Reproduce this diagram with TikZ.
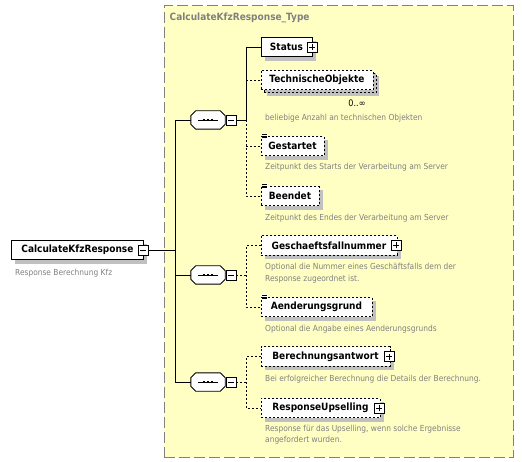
\documentclass[tikz,border=0pt]{standalone}
\usepackage{fontspec}
\setmainfont{DejaVu Sans Condensed}
\usetikzlibrary{shadows}
\definecolor{ybg}{HTML}{FFFFC4}
\definecolor{tgray}{HTML}{808080}
\definecolor{shd}{HTML}{C0C0C0}
\begin{document}
\begin{tikzpicture}[x=1pt,y=-1pt,
  elem/.style={draw=black, fill=white, line width=0.9pt, minimum height=19.5pt, inner sep=0pt, anchor=west,
    font=\bfseries\fontsize{10}{12}\selectfont,
    general shadow={fill=shd, shadow xshift=4pt, shadow yshift=-4pt}},
  optelem/.style={elem, dash pattern=on 2pt off 2pt},
  multielem/.style={draw=black, fill=white, line width=0.9pt, minimum height=19.5pt, inner sep=0pt, anchor=west,
    font=\bfseries\fontsize{10}{12}\selectfont, dash pattern=on 2pt off 2pt,
    general shadow={fill=shd, shadow xshift=6pt, shadow yshift=-6pt},
    general shadow={fill=shd, draw=black, dash pattern=on 2pt off 2pt, shadow xshift=3pt, shadow yshift=-3pt}},
  desc/.style={anchor=west, text=tgray, font=\fontsize{8.3}{11.5}\selectfont, inner sep=0pt, align=left},
  iconbox/.style={draw=black, fill=white, solid, line width=0.9pt, minimum size=10pt, inner sep=0pt},
  plusicon/.style={iconbox, path picture={
      \draw[line width=0.8pt] ([xshift=2pt]path picture bounding box.west) -- ([xshift=-2pt]path picture bounding box.east);
      \draw[line width=0.8pt] ([yshift=2pt]path picture bounding box.south) -- ([yshift=-2pt]path picture bounding box.north);}},
  minusicon/.style={iconbox, path picture={
      \draw[line width=0.8pt] ([xshift=2pt]path picture bounding box.west) -- ([xshift=-2pt]path picture bounding box.east);}},
  compbase/.style={minimum width=34pt, minimum height=18pt, inner sep=0pt},
  conn/.style={line width=0.9pt},
  optconn/.style={line width=0.9pt, dash pattern=on 2pt off 2pt},
]
\useasboundingbox (0,0) rectangle (522,462);

% type container
\node[draw=tgray, fill=ybg, line width=0.9pt, dash pattern=on 11pt off 4pt, minimum width=349pt, minimum height=451pt,
  anchor=north west, inner sep=0pt] (typebox) at (163.5,5.5) {};
\node[anchor=west, text=tgray, inner sep=0pt, font=\bfseries\fontsize{10}{12}\selectfont] (title) at (169.5,18) {CalculateKfzResponse\_Type};

% root element
\node[elem, minimum width=132pt] (main) at (11,250) {CalculateKfzResponse};
\node[minusicon] (mminus) at (143,250) {};
\node[desc] (maind) at (15,273) {Response Berechnung Kfz};
\coordinate (j) at (175.5,250);

% compositors (sequence)
\node[compbase] (c1) at (208,120) {};
\node[compbase] (c2) at (208,275) {};
\node[compbase] (c3) at (208,382) {};
\foreach \n in {c1,c2,c3}{
  \fill[shd, xshift=4pt, yshift=-4pt] ([xshift=5pt]\n.north west) -- ([xshift=-5pt]\n.north east) -- ([yshift=-5pt]\n.north east)
     -- ([yshift=5pt]\n.south east) -- ([xshift=-5pt]\n.south east) -- ([xshift=5pt]\n.south west)
     -- ([yshift=5pt]\n.south west) -- ([yshift=-5pt]\n.north west) -- cycle;
  \draw[line width=0.9pt, fill=white] ([xshift=5pt]\n.north west) -- ([xshift=-5pt]\n.north east) -- ([yshift=-5pt]\n.north east)
     -- ([yshift=5pt]\n.south east) -- ([xshift=-5pt]\n.south east) -- ([xshift=5pt]\n.south west)
     -- ([yshift=5pt]\n.south west) -- ([yshift=-5pt]\n.north west) -- cycle;
  \draw[line width=0.9pt] ([xshift=7pt]\n.west) -- ([xshift=-7pt]\n.east);
  \foreach \dx in {-4,0,4}
    \fill ([xshift=\dx pt-1.4pt, yshift=-1.3pt]\n.center) rectangle ([xshift=\dx pt+1.4pt, yshift=1.3pt]\n.center);
}
\node[minusicon] (c1m) at (231,120) {};
\node[minusicon] (c2m) at (231,275) {};
\node[minusicon] (c3m) at (231,382) {};
\coordinate (b) at (246,120);

% group 1
\node[elem, minimum width=51pt] (status) at (260.5,47) {Status};
\node[plusicon] (statusp) at (status.east) {};
\node[multielem, minimum width=112pt] (techobj) at (260.5,80) {TechnischeObjekte};
\node[anchor=center, inner sep=0pt, font=\fontsize{9}{11}\selectfont] (card) at (357,103.5) {0..∞};
\node[desc] (techd) at (265,118) {beliebige Anzahl an technischen Objekten};
\node[optelem, minimum width=63pt] (gest) at (260.5,146) {Gestartet};
\node[desc] (gestd) at (265,167) {Zeitpunkt des Starts der Verarbeitung am Server};
\node[optelem, minimum width=58pt] (beend) at (260.5,196) {Beendet};
\node[desc] (beendd) at (265,218) {Zeitpunkt des Endes der Verarbeitung am Server};

% group 2
\node[optelem, minimum width=136pt] (gfn) at (260.5,245.5) {Geschaeftsfallnummer};
\node[plusicon] (gfnp) at ([xshift=-1pt]gfn.east) {};
\node[desc] (gfnd) at (265,273) {Optional die Nummer eines Geschäftsfalls dem der\\Response zugeordnet ist.};
\node[optelem, minimum width=111pt] (aend) at (260.5,307) {Aenderungsgrund};
\node[desc] (aendd) at (265,329) {Optional die Angabe eines Aenderungsgrunds};

% group 3
\node[optelem, minimum width=129pt] (bant) at (260.5,356.5) {Berechnungsantwort};
\node[plusicon] (bantp) at ([xshift=-1pt]bant.east) {};
\node[desc] (bantd) at (265,379) {Bei erfolgreicher Berechnung die Details der Berechnung.};
\node[optelem, minimum width=119pt] (rups) at (260.5,408) {ResponseUpselling};
\node[plusicon] (rupsp) at ([xshift=-1pt]rups.east) {};
\node[desc] (rupsd) at (265,434.5) {Response für das Upselling, wenn solche Ergebnisse\\angefordert wurden.};

% simple type icons
\foreach \n in {gest,beend,aend}{
  \fill[white] ([xshift=1pt,yshift=2.6pt]\n.north west) rectangle ([xshift=7pt,yshift=-2.4pt]\n.north west);
  \foreach \dy in {1.7,0,-1.7}
    \draw[line width=0.55pt] ([xshift=1.5pt,yshift=\dy pt]\n.north west) -- ([xshift=6.5pt,yshift=\dy pt]\n.north west);
}

% connectors root -> compositors
\draw[conn] (mminus.east) -- (j);
\draw[conn] (c1.west) -- (c1.west -| j) -- (c3.west -| j) -- (c3.west);
\draw[conn] (c2.west) -- (c2.west -| j);

% group 1 connectors
\draw[conn] (c1m.east) -- (c1m.east -| b);
\draw[conn] (c1m.east -| b) -- (status.west -| b) -- (status.west);
\draw[optconn] (c1m.east -| b) -- (beend.west -| b) -- (beend.west);
\draw[optconn] (techobj.west -| b) -- (techobj.west);
\draw[optconn] (gest.west -| b) -- (gest.west);

% group 2 connectors
\draw[optconn] (c2m.east) -- (c2m.east -| b);
\draw[optconn] (gfn.west) -- (gfn.west -| b) -- (aend.west -| b) -- (aend.west);

% group 3 connectors
\draw[optconn] (c3m.east) -- (c3m.east -| b);
\draw[optconn] (bant.west) -- (bant.west -| b) -- (rups.west -| b) -- (rups.west);
\end{tikzpicture}
\end{document}
